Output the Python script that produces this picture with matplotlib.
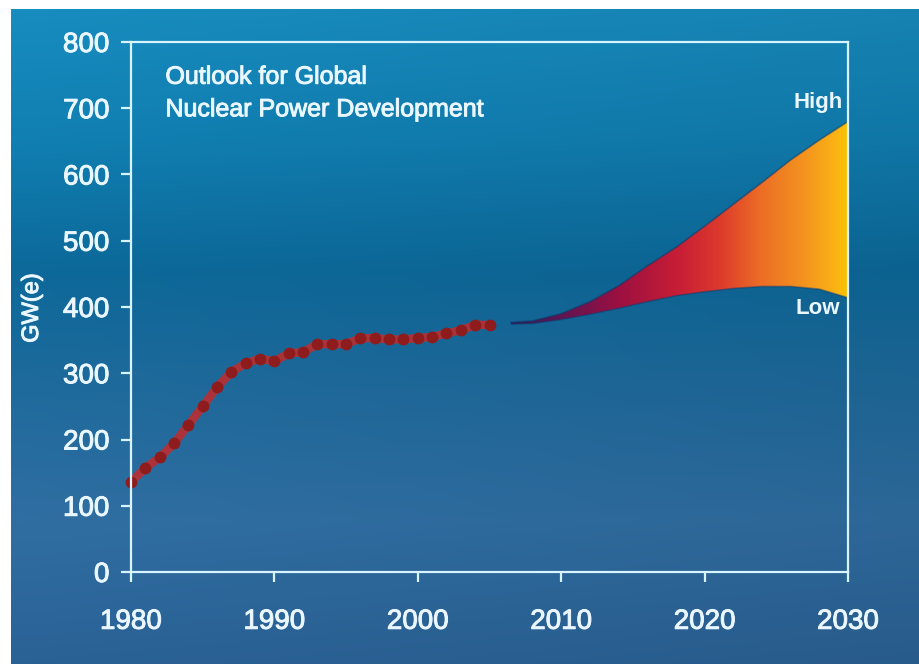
import numpy as np
import matplotlib.pyplot as plt
import matplotlib.patheffects as pe
from matplotlib.colors import LinearSegmentedColormap, to_rgb

plt.rcParams['font.family'] = ['Liberation Sans', 'DejaVu Sans']

# installed capacity, GW(e)
years = list(range(1980, 2006))
capacity = [136, 157, 173, 194, 222, 250, 279, 302, 315, 322, 318, 330, 332,
            344, 344, 344, 353, 353, 351, 351, 353, 355, 360, 365, 373, 373]

# projection band
proj_years = [2006.5, 2008, 2010, 2012, 2014, 2016, 2018, 2020, 2022, 2024, 2026, 2028, 2030]
high = [377, 379, 390, 408, 432, 462, 490, 522, 555, 588, 622, 652, 680]
low = [374, 375, 381, 389, 398, 408, 417, 423, 428, 431, 431, 427, 414]

x_ticks = [1980, 1990, 2000, 2010, 2020, 2030]
y_ticks = [0, 100, 200, 300, 400, 500, 600, 700, 800]

W, H = 919, 664
fig = plt.figure(figsize=(W / 100, H / 100), dpi=100, facecolor='white')

# blue backdrop
stops = [(0.00, '#1787b8'), (0.20, '#107aab'), (0.40, '#0c6594'),
         (0.56, '#1c6696'), (0.78, '#2e6a9c'), (1.00, '#295e90')]
rows = np.linspace(0, 1, 400)
cols = np.array([to_rgb(c) for _, c in stops])
pos = [p for p, _ in stops]
grad = np.stack([np.interp(rows, pos, cols[:, i]) for i in range(3)], axis=-1)
grad = np.repeat(grad[:, None, :], 50, axis=1)
shade = np.linspace(1.04, 0.97, 50)[None, :, None]
grad = np.clip(grad * shade, 0, 1)
bg = fig.add_axes([11 / W, 0, 1 - 11 / W, 1 - 9 / H])
bg.imshow(grad, aspect='auto', extent=[0, 1, 0, 1], interpolation='bicubic')
bg.axis('off')

ax = fig.add_axes([131 / W, 92 / H, 717 / W, 530 / H])
ax.patch.set_alpha(0)
ax.set_xlim(1980, 2030)
ax.set_ylim(0, 800)

line_col = '#d8f4ff'
text_col = '#eaf7ff'
heavy = [pe.withStroke(linewidth=0.7, foreground=text_col)]

for s in ax.spines.values():
    s.set_color(line_col)
    s.set_linewidth(1.6)
    s.set_zorder(6)
ax.set_xticks(x_ticks)
ax.set_yticks(y_ticks)
ax.tick_params(direction='out', length=7.5, width=1.6, color=line_col,
               labelcolor=text_col, labelsize=20)
ax.tick_params(axis='x', pad=19)
ax.tick_params(axis='y', pad=8)
for lab in ax.get_xticklabels() + ax.get_yticklabels():
    lab.set_path_effects(heavy)

# historical series
ax.plot(years, capacity, color='#c42a2a', lw=6, alpha=0.85, zorder=3,
        solid_capstyle='round', clip_on=False)
ax.plot(years, capacity, 'o', color='#8e1c1c', ms=8.5, mec='none', zorder=4,
        clip_on=False)

# projection fan with horizontal colour ramp
fan = ax.fill_between(proj_years, low, high, color='none', lw=0, zorder=2)
fan_cmap = LinearSegmentedColormap.from_list('fan', [
    (0.00, '#2c1c5c'), (0.18, '#6a1450'), (0.32, '#9c1040'),
    (0.50, '#c81e36'), (0.62, '#dc3a2c'), (0.74, '#ec6c26'),
    (0.88, '#f4961e'), (0.97, '#fbb414'), (1.00, '#f7c400')])
ramp = np.linspace(0, 1, 256)[None, :]
img = ax.imshow(ramp, cmap=fan_cmap, aspect='auto', zorder=2,
                extent=[proj_years[0], proj_years[-1], min(low) - 5, max(high) + 5])
img.set_clip_path(fan.get_paths()[0], transform=ax.transData)
ax.plot(proj_years, high, color='#0b3c6e', lw=1.2, alpha=0.55, zorder=2.5)
ax.plot(proj_years, low, color='#0b3c6e', lw=1.2, alpha=0.45, zorder=2.5)
ax.set_xlim(1980, 2030)
ax.set_ylim(0, 800)

ax.text(2027.9, 708, 'High', color=text_col, fontsize=16, fontweight='bold',
        ha='center', va='center')
ax.text(2027.9, 397, 'Low', color=text_col, fontsize=16, fontweight='bold',
        ha='center', va='center')

ax.text(1982.4, 723, 'Outlook for Global\nNuclear Power Development',
        color=text_col, fontsize=18, ha='left', va='center', linespacing=1.45,
        path_effects=heavy)

fig.text(32 / W, 1 - 308 / H, 'GW(e)', color=text_col, fontsize=17,
         rotation=90, ha='center', va='center', path_effects=heavy)

fig.savefig('out.png', dpi=100, facecolor=fig.get_facecolor())
